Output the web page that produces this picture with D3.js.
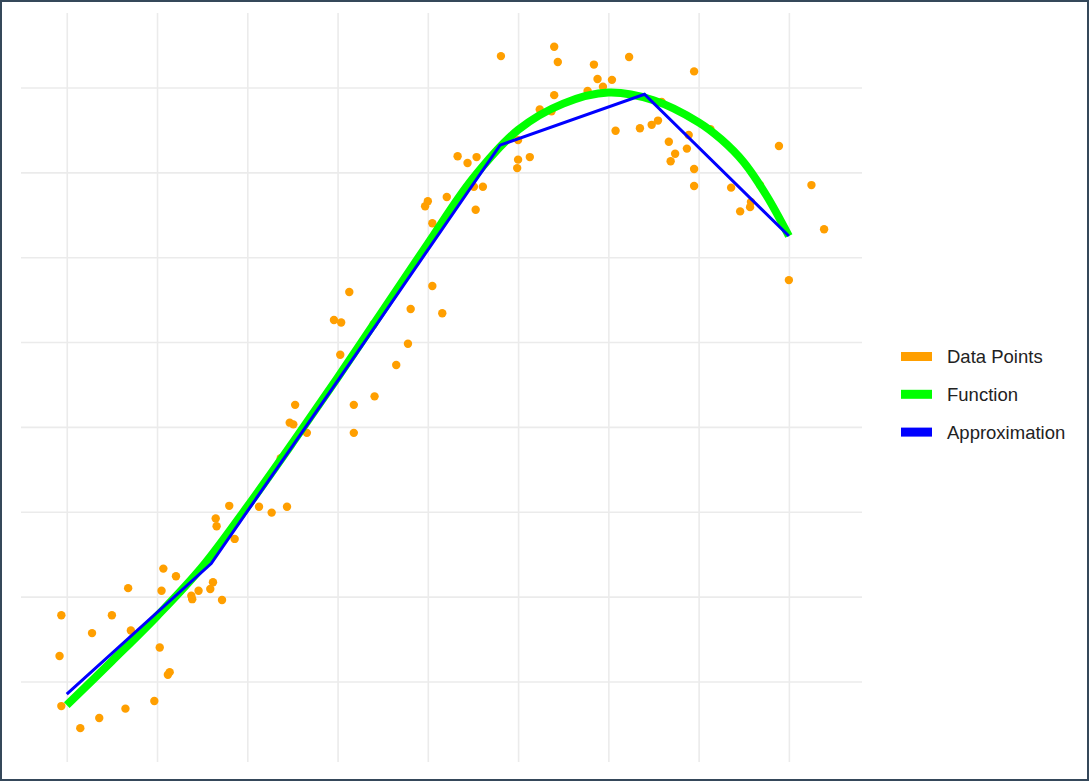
<!DOCTYPE html>
<html>
<head>
<meta charset="utf-8">
<script src="https://cdn.jsdelivr.net/npm/d3@7"></script>
<style>
  body { margin: 0; background: #fff; }
  svg { display: block; }
</style>
</head>
<body>
<svg width="1089" height="781"></svg>
<script>
// scattered observations (x, y)
var pointsX = [1.80, 1.65, 1.66, 1.86, 1.07, 1.21, 0.68, 1.05, 1.62, 1.59, 1.46, 1.38, 1.39, 1.72,
  -0.06, 0.50, 0.28, 0.71, -0.08, 1.03, 1.14, 1.12, -0.06, 0.97, 0.65, 0.36, 0.15,
  2.13, 2.27, 2.44, 2.53, 2.47, 2.51, 2.66, 3.18, 3.18, 3.41, 3.65, 3.03, 3.78, 3.40, 2.96, 3.04,
  3.13, 3.81, 4.16, 4.05, 2.37,
  4.81, 5.40, 5.44, 5.84, 6.23, 6.95, 5.88, 6.04, 5.40, 5.94, 5.77, 5.24, 5.37, 6.08, 6.35, 6.48,
  6.55, 6.59, 6.67, 6.74, 6.69, 6.87, 6.89, 6.95, 6.95, 7.13, 7.89, 7.36, 7.68, 7.46, 7.57, 7.58,
  8.25, 8.39, 8.00, 5.00, 4.33, 4.44, 4.54, 5.00, 4.99, 5.13, 4.51, 4.61, 4.21, 4.00, 3.97, 4.53, 4.05];
var pointsY = [2.07, 1.92, 1.83, 1.68, 1.33, 1.24, 1.10, 1.07, 1.17, 1.09, 1.07, 1.01, 0.97, 0.96,
  0.78, 0.78, 0.57, 0.60, 0.30, 0.40, 0.11, 0.08, -0.29, -0.23, -0.32, -0.43, -0.55,
  2.06, 1.99, 2.06, 3.26, 3.05, 3.03, 2.93, 2.93, 3.26, 3.36, 3.73, 3.85, 3.98, 4.21, 4.26, 4.23,
  4.59, 4.39, 4.34, 4.66, 2.63,
  7.37, 7.48, 7.30, 7.27, 7.36, 7.19, 7.10, 7.09, 6.91, 7.01, 6.96, 6.74, 6.72, 6.49, 6.52, 6.56,
  6.61, 6.83, 6.36, 6.22, 6.13, 6.28, 6.44, 6.04, 5.84, 6.51, 6.31, 5.82, 5.85, 5.54, 5.59, 5.65,
  5.85, 5.33, 4.73, 6.38, 6.19, 6.11, 6.18, 6.15, 6.05, 6.18, 5.83, 5.83, 5.71, 5.66, 5.60, 5.56, 5.40];

// the true function
var funcX = [0, 0.5, 1, 1.5, 2, 2.5, 3, 3.5, 4, 4.5, 5, 5.5, 6, 6.5, 7, 7.25, 7.5, 7.75, 8];
var funcY = [-0.28, 0.24, 0.77, 1.35, 2.06, 2.81, 3.58, 4.37, 5.16, 5.93, 6.50, 6.81, 6.94, 6.85, 6.59, 6.39, 6.12, 5.73, 5.25];

// piecewise linear approximation
var approxX = [0, 1.6, 3.2, 4.8, 6.4, 8];
var approxY = [-0.15, 1.39, 3.85, 6.32, 6.92, 5.25];

var legendLabels = ["Data Points", "Function", "Approximation"];
var legendColors = ["#ff9f00", "#00ff00", "#0000ff"];

var svg = d3.select("svg");

var x = d3.scaleLinear().domain([-0.507, 8.81]).range([21, 862]);
var y = d3.scaleLinear().domain([-0.949, 7.878]).range([762, 13]);

// grid (no axis text, just the major lines)
var grid = svg.append("g").attr("class", "grid");
grid.append("g")
    .attr("transform", "translate(0,762)")
    .call(d3.axisBottom(x).ticks(8).tickSize(-749).tickFormat(""))
    .call(function(g) { g.select(".domain").remove(); });
grid.append("g")
    .attr("transform", "translate(21,0)")
    .call(d3.axisLeft(y).ticks(8).tickSize(-841).tickFormat(""))
    .call(function(g) { g.select(".domain").remove(); });
grid.selectAll("line")
    .attr("stroke", "#ebebeb")
    .attr("stroke-width", 1.6);

// points
var pts = pointsX.map(function(d, i) { return [d, pointsY[i]]; });
svg.append("g").selectAll("circle")
    .data(pts)
  .enter().append("circle")
    .attr("cx", function(d) { return x(d[0]); })
    .attr("cy", function(d) { return y(d[1]); })
    .attr("r", 4.2)
    .attr("fill", legendColors[0]);

var line = d3.line()
    .x(function(d) { return x(d[0]); })
    .y(function(d) { return y(d[1]); });

svg.append("path")
    .datum(funcX.map(function(d, i) { return [d, funcY[i]]; }))
    .attr("fill", "none")
    .attr("stroke", legendColors[1])
    .attr("stroke-width", 8)
    .attr("d", line.curve(d3.curveCatmullRom.alpha(0.5)));

svg.append("path")
    .datum(approxX.map(function(d, i) { return [d, approxY[i]]; }))
    .attr("fill", "none")
    .attr("stroke", legendColors[2])
    .attr("stroke-width", 3)
    .attr("stroke-linejoin", "miter")
    .attr("d", line.curve(d3.curveLinear));

// legend
var legend = svg.append("g").attr("transform", "translate(901,352)");
var item = legend.selectAll("g")
    .data(legendLabels)
  .enter().append("g")
    .attr("transform", function(d, i) { return "translate(0," + (i * 37.8) + ")"; });
item.append("rect")
    .attr("width", 31)
    .attr("height", 9)
    .attr("fill", function(d, i) { return legendColors[i]; });
item.append("text")
    .attr("x", 46)
    .attr("y", 11)
    .attr("font-family", "Liberation Sans, Arial, sans-serif")
    .attr("font-size", 18.5)
    .attr("fill", "#222")
    .text(function(d) { return d; });

// outer frame
svg.append("rect")
    .attr("x", 1).attr("y", 1)
    .attr("width", 1087).attr("height", 779)
    .attr("fill", "none")
    .attr("stroke", "#35485a")
    .attr("stroke-width", 2);
</script>
</body>
</html>
